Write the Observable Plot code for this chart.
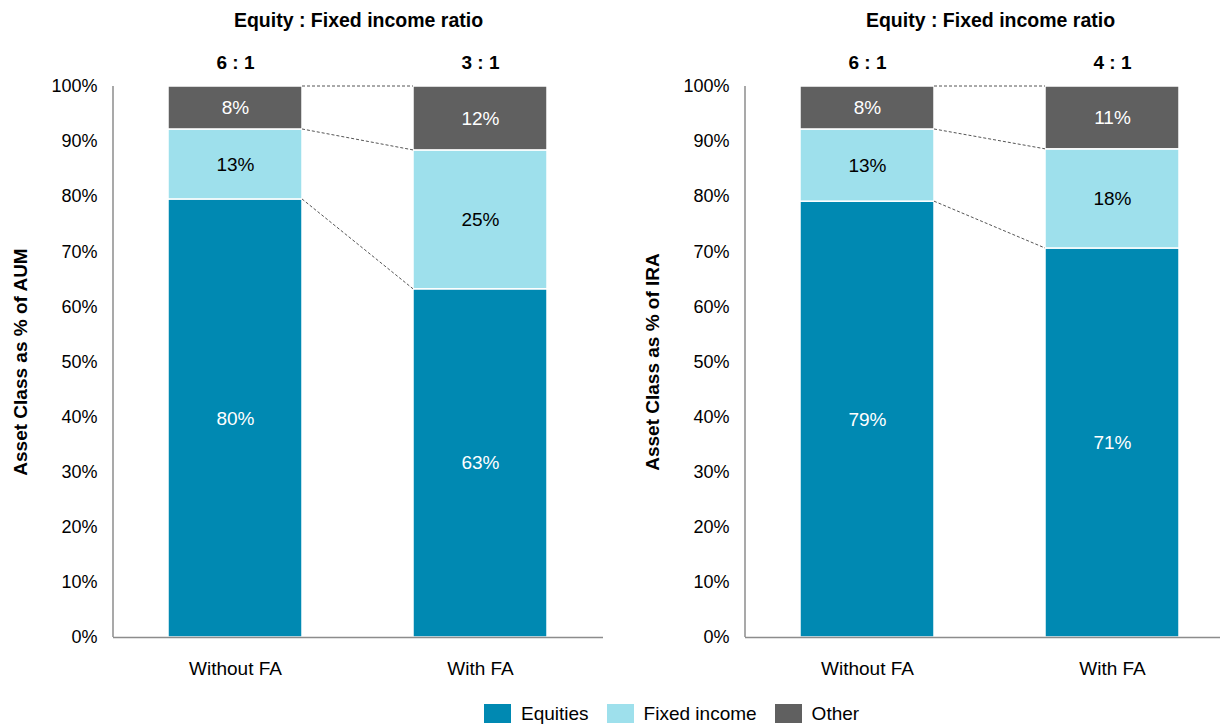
<!DOCTYPE html>
<html><head><meta charset="utf-8">
<script src="https://cdn.jsdelivr.net/npm/d3@7"></script>
<script src="https://cdn.jsdelivr.net/npm/@observablehq/plot@0.6"></script>
<style>
html,body{margin:0;padding:0;background:#fff;width:1220px;height:726px;overflow:hidden;font-family:"Liberation Sans",Arial,sans-serif;position:relative;}
#c1,#c2{position:absolute;top:0;width:610px;height:690px;}
#c1{left:0} #c2{left:632px}
#c1 svg,#c2 svg{max-width:none;}
#legend{position:absolute;top:704px;left:484px;display:flex;align-items:center;font-size:19px;color:#000;line-height:19px}
.sw{width:27px;height:19px;margin-right:10px}
.item{display:flex;align-items:center;margin-right:18px}
</style></head><body>
<div id="c1"></div><div id="c2"></div><div id="legend"></div>
<script>
const scenarios = ["Without FA", "With FA"];
const assetClasses = ["Equities", "Fixed income", "Other"];
const colors = ["#0089B2", "#9EE0EC", "#606060"];
const aumEquities = [79.5, 63.2];
const aumFixed = [12.7, 25.2];
const aumOther = [7.8, 11.6];
const iraEquities = [79.1, 70.6];
const iraFixed = [13.1, 18.0];
const iraOther = [7.8, 11.4];
const aumRatios = ["6 : 1", "3 : 1"];
const iraRatios = ["6 : 1", "4 : 1"];
const titleText = "Equity : Fixed income ratio";
const aumYLabel = "Asset Class as % of AUM";
const iraYLabel = "Asset Class as % of IRA";
const yTicks = [0, 10, 20, 30, 40, 50, 60, 70, 80, 90, 100];

function buildRows(eq, fi, ot) {
  const rows = [];
  scenarios.forEach((s, i) => {
    rows.push({scenario: s, asset: "Equities", value: eq[i]});
    rows.push({scenario: s, asset: "Fixed income", value: fi[i]});
    rows.push({scenario: s, asset: "Other", value: ot[i]});
  });
  return rows;
}

function connectorMark(eq, fi, ot) {
  const pairs = [
    [eq[0], eq[1]],
    [eq[0] + fi[0], eq[1] + fi[1]],
    [eq[0] + fi[0] + ot[0], eq[1] + fi[1] + ot[1]]
  ];
  return (index, scales, values, dim) => {
    const x = scales.x, y = scales.y;
    const bw = typeof x.bandwidth === "function" ? x.bandwidth() : scales.scales.x.bandwidth;
    const g = d3.create("svg:g");
    g.append("line")
      .attr("x1", dim.marginLeft).attr("x2", dim.marginLeft)
      .attr("y1", dim.marginTop).attr("y2", dim.height - dim.marginBottom)
      .attr("stroke", "#8c8c8c").attr("stroke-width", 1.5);
    for (const [a, b] of pairs) {
      g.append("line")
        .attr("x1", x(scenarios[0]) + bw).attr("x2", x(scenarios[1]))
        .attr("y1", y(a)).attr("y2", y(b))
        .attr("stroke", "#555").attr("stroke-width", 1)
        .attr("stroke-dasharray", "3,2").attr("fill", "none");
    }
    return g.node();
  };
}

function makeChart(eq, fi, ot, ratios, yLabel) {
  const rows = buildRows(eq, fi, ot);
  const ratioRows = scenarios.map((s, i) => ({scenario: s, ratio: ratios[i]}));
  return Plot.plot({
    width: 610,
    height: 690,
    marginLeft: 113,
    marginRight: 7,
    marginTop: 86,
    marginBottom: 53,
    style: {fontFamily: "'Liberation Sans', Arial, sans-serif", fontSize: "18px", color: "#000", background: "transparent", overflow: "visible", maxWidth: "none"},
    x: {domain: scenarios, paddingInner: 0.453, paddingOuter: 0.224, axis: null},
    y: {domain: [0, 100], axis: null},
    color: {domain: assetClasses, range: colors},
    marks: [
      Plot.barY(rows, {x: "scenario", y: "value", fill: "asset", order: assetClasses, stroke: "white", strokeWidth: 1.5}),
      Plot.ruleY([0], {stroke: "#8c8c8c", strokeWidth: 1.5}),
      connectorMark(eq, fi, ot),
      Plot.axisY({ticks: yTicks, tickFormat: d => d + "%", tickSize: 0, tickPadding: 16, label: null, fontSize: 18}),
      Plot.axisX({tickSize: 0, tickPadding: 24, label: null, fontSize: 19}),
      Plot.text(rows, Plot.stackY({x: "scenario", y: "value", z: "asset", order: assetClasses,
        text: d => d.asset === "Fixed income" ? null : Math.round(d.value) + "%", fill: "white", fontSize: 19})),
      Plot.text(rows, Plot.stackY({x: "scenario", y: "value", z: "asset", order: assetClasses,
        text: d => d.asset === "Fixed income" ? Math.round(d.value) + "%" : null, fill: "black", fontSize: 19})),
      Plot.text(ratioRows, {x: "scenario", text: "ratio", frameAnchor: "top", lineAnchor: "middle", dy: -24, fontWeight: "bold", fontSize: 19}),
      Plot.text([titleText], {text: d => d, frameAnchor: "top", lineAnchor: "middle", dy: -66, fontWeight: "bold", fontSize: 19.5}),
      Plot.text([yLabel], {text: d => d, frameAnchor: "left", textAnchor: "middle", lineAnchor: "middle", rotate: -90, dx: -93, fontWeight: "bold", fontSize: 19})
    ]
  });
}

document.getElementById("c1").append(makeChart(aumEquities, aumFixed, aumOther, aumRatios, aumYLabel));
document.getElementById("c2").append(makeChart(iraEquities, iraFixed, iraOther, iraRatios, iraYLabel));

const legend = document.getElementById("legend");
assetClasses.forEach((a, i) => {
  const item = document.createElement("div");
  item.className = "item";
  const sw = document.createElement("div");
  sw.className = "sw";
  sw.style.background = colors[i];
  const t = document.createElement("span");
  t.textContent = a;
  item.append(sw, t);
  legend.append(item);
});
</script>
</body></html>
